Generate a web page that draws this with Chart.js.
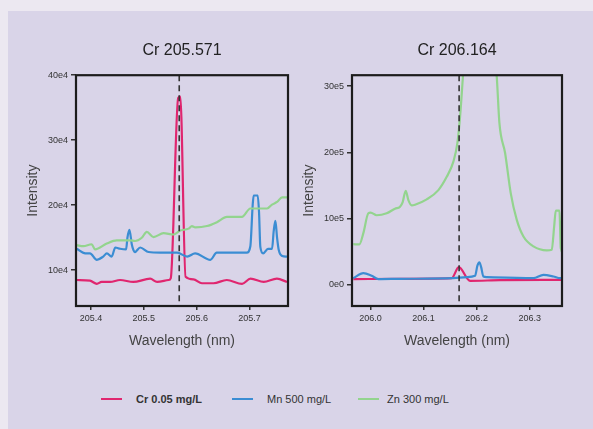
<!DOCTYPE html>
<html>
<head>
<meta charset="utf-8">
<script src="https://cdn.jsdelivr.net/npm/chart.js@4.4.1/dist/chart.umd.min.js"></script>
<style>
  html, body { margin: 0; padding: 0; }
  body { width: 593px; height: 429px; background: #ece8f1; position: relative; overflow: hidden;
         font-family: "Liberation Sans", Arial, sans-serif; }
  #panel { position: absolute; left: 8px; top: 11px; width: 585px; height: 418px; background: #d9d4e8; }
  canvas { position: absolute; }
  #left { left: 20px; top: 35px; }
  #right { left: 296px; top: 35px; }
  #legend { position: absolute; top: 392px; left: 0; width: 593px; height: 16px; font-size: 11px; color: #333; }
  .item { position: absolute; top: 0; line-height: 14px; white-space: nowrap; }
  .item i { position: absolute; top: 6px; width: 21px; height: 2px; }
  .item span { position: absolute; left: 35px; top: 0; }
</style>
</head>
<body>
<div id="panel"></div>
<canvas id="left" width="275" height="325"></canvas>
<canvas id="right" width="280" height="325"></canvas>
<div id="legend">
  <div class="item" style="left:101px"><i style="background:#e0266f"></i><span style="font-weight:bold">Cr 0.05 mg/L</span></div>
  <div class="item" style="left:232px"><i style="background:#3b8dd3"></i><span>Mn 500 mg/L</span></div>
  <div class="item" style="left:358px"><i style="background:#93d48e"></i><span style="left:29px">Zn 300 mg/L</span></div>
</div>
<script>
// --- Cr 205.571 window ---
var crAX = [205.373, 205.398, 205.411, 205.420, 205.436, 205.455, 205.480, 205.512, 205.525, 205.547, 205.551, 205.565, 205.569, 205.579, 205.594, 205.610, 205.632, 205.657, 205.686, 205.702, 205.727, 205.752, 205.771];
var crAY = [85000, 84000, 79000, 82000, 82000, 85000, 82000, 87000, 82000, 85000, 88000, 365000, 367000, 90000, 86000, 80000, 80000, 85000, 79000, 87000, 82000, 87000, 82000];
var mnAX = [205.373, 205.389, 205.398, 205.411, 205.423, 205.430, 205.439, 205.446, 205.455, 205.4664, 205.4689, 205.4727, 205.4771, 205.4803, 205.483, 205.493, 205.509, 205.531, 205.563, 205.582, 205.597, 205.626, 205.638, 205.695, 205.7017, 205.7061, 205.7080, 205.7156, 205.7181, 205.7206, 205.726, 205.735, 205.7428, 205.7459, 205.7491, 205.7523, 205.7555, 205.762, 205.771];
var mnAY = [133000, 126000, 126000, 116000, 121000, 126000, 121000, 135000, 133000, 132000, 150000, 162000, 140000, 131000, 128000, 135000, 128000, 127000, 127000, 121000, 126000, 116000, 127000, 127000, 137000, 200000, 215000, 215000, 190000, 136000, 126000, 133000, 133000, 160000, 176000, 150000, 131000, 122000, 121000];
var znAX = [205.3728, 205.3854, 205.4012, 205.4076, 205.4297, 205.4487, 205.4740, 205.4834, 205.4961, 205.5056, 205.5183, 205.5372, 205.5562, 205.5689, 205.5847, 205.5910, 205.5973, 205.6195, 205.6384, 205.6574, 205.6858, 205.7017, 205.7333, 205.7428, 205.7523, 205.7618, 205.7713];
var znAY = [138500, 137000, 140000, 132000, 141000, 146000, 146000, 145000, 150000, 159000, 151000, 157000, 155000, 161000, 164000, 168000, 166000, 168000, 174000, 182000, 182000, 195000, 195000, 201000, 205000, 212000, 212000];
var leftXTicks = [205.4, 205.5, 205.6, 205.7];
var leftYTicks = [100000, 200000, 300000, 400000];
var leftYLabels = ['10e4', '20e4', '30e4', '40e4'];

// --- Cr 206.164 window ---
var crBX = [205.9675, 206.0556, 206.1531, 206.1663, 206.1876, 206.2442, 206.3669];
var crBY = [86000, 90000, 100000, 266000, 60000, 70000, 75000];
var mnBX = [205.9675, 205.9864, 206.0021, 206.0147, 206.0556, 206.1562, 206.1814, 206.1971, 206.2015, 206.2052, 206.2084, 206.2128, 206.2191, 206.3071, 206.3260, 206.3449, 206.3574, 206.3669];
var mnBY = [100000, 176000, 136000, 86000, 90000, 100000, 116000, 136000, 290000, 340000, 270000, 126000, 116000, 100000, 150000, 126000, 100000, 100000];
var znBX = [205.9675, 205.9788, 205.9864, 205.9958, 206.0002, 206.0115, 206.0304, 206.0461, 206.0556, 206.0606, 206.0663, 206.0713, 206.0776, 206.0839, 206.1059, 206.1279, 206.1436, 206.1562, 206.1637, 206.1688, 206.1738, 206.1763, 206.2065, 206.2380, 206.2430, 206.2537, 206.2644, 206.2757, 206.2883, 206.3072, 206.3323, 206.3417, 206.3462, 206.3493, 206.3562, 206.3587, 206.3669];
var znBY = [613000, 610000, 780000, 1080000, 1090000, 1050000, 1080000, 1150000, 1180000, 1250000, 1420000, 1280000, 1200000, 1210000, 1290000, 1430000, 1630000, 1860000, 2140000, 2540000, 3100000, 3390000, 6000000, 3140000, 2440000, 1990000, 1380000, 980000, 730000, 580000, 520000, 530000, 880000, 1120000, 1120000, 550000, 450000];
var rightXTicks = [206.0, 206.1, 206.2, 206.3];
var rightYTicks = [0, 1000000, 2000000, 3000000];
var rightYLabels = ['0e0', '10e5', '20e5', '30e5'];

var seriesNames = ['Cr 0.05 mg/L', 'Mn 500 mg/L', 'Zn 300 mg/L'];
var colors = ['#e0266f', '#3b8dd3', '#93d48e'];

Chart.defaults.font.family = '"Liberation Sans", Arial, sans-serif';
Chart.defaults.color = '#333';

function pts(xs, ys) {
    return xs.map(function(x, i) { return { x: x, y: ys[i] }; });
}

// frame around the plot + dashed marker line
var framePlugin = {
    id: 'frame',
    afterDatasetsDraw: function(chart, args, opts) {
        var ctx = chart.ctx, a = chart.chartArea;
        var px = chart.scales.x.getPixelForValue(opts.marker);
        ctx.save();
        ctx.strokeStyle = '#333';
        ctx.lineWidth = 1.6;
        ctx.setLineDash([6, 4]);
        ctx.beginPath();
        ctx.moveTo(px, a.top);
        ctx.lineTo(px, a.bottom);
        ctx.stroke();
        ctx.setLineDash([]);
        ctx.strokeStyle = '#1c1c1c';
        ctx.lineWidth = 2.2;
        ctx.strokeRect(a.left, a.top, a.right - a.left, a.bottom - a.top);
        ctx.restore();
    }
};

function makeChart(id, title, series, xr, yr, xTicks, yTicks, yLabels, marker, padRight) {
    return new Chart(document.getElementById(id), {
        type: 'line',
        data: {
            datasets: series.map(function(s, i) {
                return {
                    label: seriesNames[i],
                    data: pts(s[0], s[1]),
                    borderColor: colors[i],
                    borderWidth: 2.2,
                    pointRadius: 0,
                    cubicInterpolationMode: 'monotone'
                };
            }).reverse()
        },
        options: {
            responsive: false,
            animation: false,
            layout: { padding: { left: 0, right: padRight, top: 0, bottom: 0 } },
            plugins: {
                legend: { display: false },
                tooltip: { enabled: false },
                title: {
                    display: true,
                    text: title,
                    fullSize: false,
                    color: '#222',
                    font: { size: 16, weight: 'normal' },
                    padding: { top: 6, bottom: 15 }
                },
                frame: { marker: marker }
            },
            scales: {
                x: {
                    type: 'linear',
                    min: xr[0],
                    max: xr[1],
                    afterFit: function(s) { s.height = 54; },
                    afterBuildTicks: function(s) { s.ticks = xTicks.map(function(v) { return { value: v }; }); },
                    ticks: {
                        font: { size: 9 },
                        color: '#333',
                        padding: 3,
                        maxRotation: 0,
                        callback: function(v) { return v.toFixed(1); }
                    },
                    grid: { display: true, drawOnChartArea: false, drawTicks: true, tickLength: 4, color: '#333', lineWidth: 1.5 },
                    border: { display: false },
                    title: { display: true, text: 'Wavelength (nm)', color: '#444', font: { size: 14 }, padding: { top: 0, bottom: 10 } }
                },
                y: {
                    min: yr[0],
                    max: yr[1],
                    afterFit: function(s) { s.width = 56; },
                    afterBuildTicks: function(s) { s.ticks = yTicks.map(function(v) { return { value: v }; }); },
                    ticks: {
                        font: { size: 9 },
                        color: '#333',
                        padding: 3,
                        callback: function(v, i) { return yLabels[i]; }
                    },
                    grid: { display: true, drawOnChartArea: false, drawTicks: true, tickLength: 5, color: '#333', lineWidth: 1.5 },
                    border: { display: false },
                    title: { display: true, text: 'Intensity', color: '#444', font: { size: 14 }, padding: { top: 5, bottom: 0 } }
                }
            }
        },
        plugins: [framePlugin]
    });
}

makeChart('left', 'Cr 205.571',
    [[crAX, crAY], [mnAX, mnAY], [znAX, znAY]],
    [205.3715, 205.773], [45000, 400000], leftXTicks, leftYTicks, leftYLabels, 205.567, 7);

makeChart('right', 'Cr 206.164',
    [[crBX, crBY], [mnBX, mnBY], [znBX, znBY]],
    [205.965, 206.361], [-320000, 3165000], rightXTicks, rightYTicks, rightYLabels, 206.167, 14);
</script>
</body>
</html>
